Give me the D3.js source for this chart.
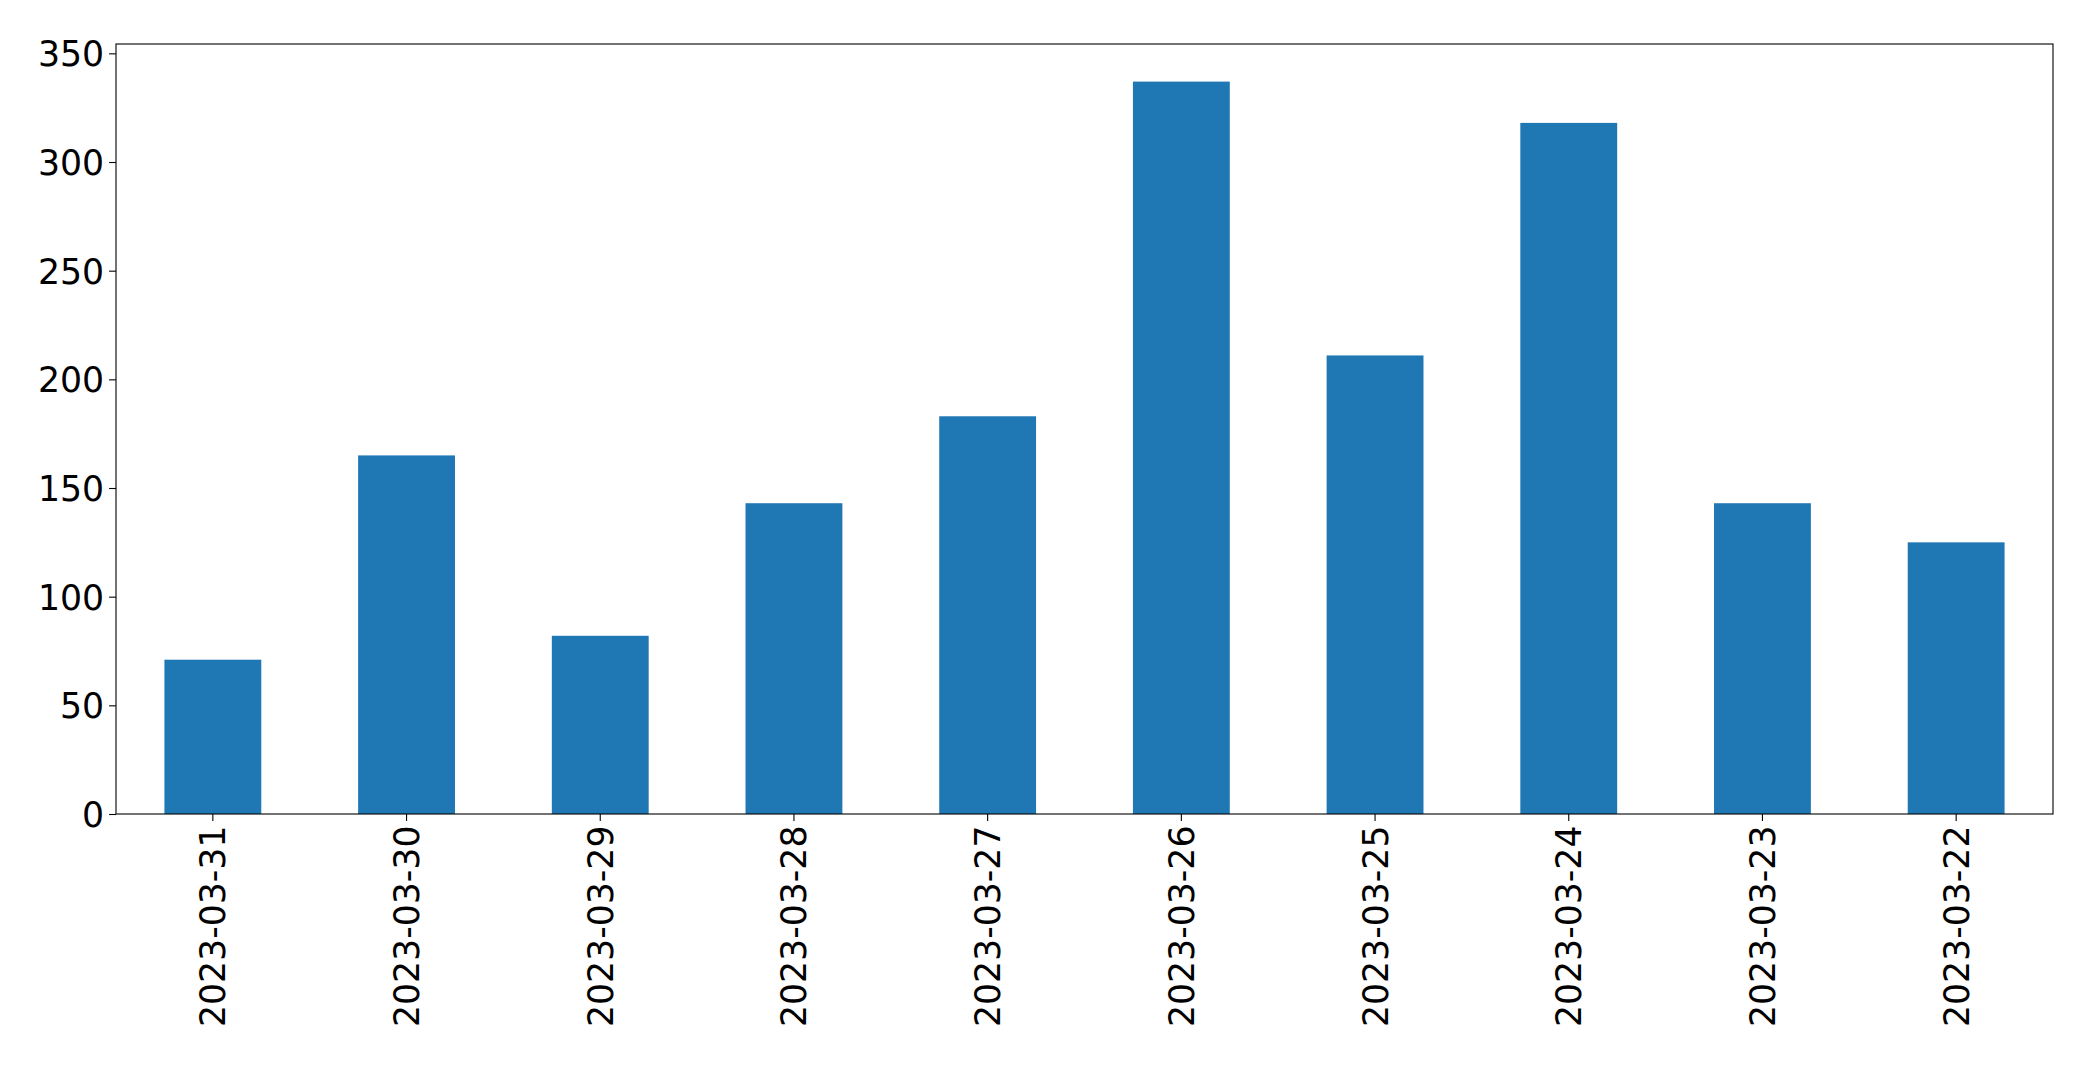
<!DOCTYPE html>
<html>
<head>
<meta charset="utf-8">
<script src="https://cdn.jsdelivr.net/npm/d3@7"></script>
<style>
  body { margin: 0; background: #fff; }
  text { font-family: "DejaVu Sans", sans-serif; fill: #000; }
</style>
</head>
<body>
<script>
const categories = [
  "2023-03-31", "2023-03-30", "2023-03-29", "2023-03-28", "2023-03-27",
  "2023-03-26", "2023-03-25", "2023-03-24", "2023-03-23", "2023-03-22"
];
const values = [71, 165, 82, 143, 183, 337, 211, 318, 143, 125];
const yTicks = [0, 50, 100, 150, 200, 250, 300, 350];

const width = 2093;
const height = 1066;
const margin = { left: 116, right: 40, top: 44, bottom: 252 };
const fontSize = 34.7;
const barColor = "#1f77b4";

const svg = d3
  .select("body")
  .append("svg")
  .attr("width", width)
  .attr("height", height);

const x = d3
  .scaleBand()
  .domain(categories)
  .range([margin.left, width - margin.right])
  .paddingInner(0.5)
  .paddingOuter(0.25);

const y = d3
  .scaleLinear()
  .domain([0, 354.3])
  .range([height - margin.bottom, margin.top]);

// bars
svg
  .append("g")
  .selectAll("rect")
  .data(values)
  .enter()
  .append("rect")
  .attr("x", (d, i) => x(categories[i]))
  .attr("y", (d) => y(d))
  .attr("width", x.bandwidth())
  .attr("height", (d) => y(0) - y(d))
  .attr("fill", barColor);

// y axis
const yAxis = svg
  .append("g")
  .attr("transform", `translate(${margin.left},0)`)
  .call(d3.axisLeft(y).tickValues(yTicks).tickSize(6.9).tickPadding(5));
yAxis.select(".domain").remove();
yAxis.selectAll("line").attr("stroke", "#000").attr("stroke-width", 1.1);
yAxis
  .selectAll("text")
  .attr("font-size", fontSize)
  .attr("font-family", "DejaVu Sans")
  .attr("dy", "0.36em");

// x axis
const xAxis = svg
  .append("g")
  .attr("transform", `translate(0,${height - margin.bottom})`)
  .call(d3.axisBottom(x).tickSize(6.9).tickPadding(0));
xAxis.select(".domain").remove();
xAxis.selectAll("line").attr("stroke", "#000").attr("stroke-width", 1.1);
xAxis
  .selectAll("text")
  .attr("font-size", fontSize)
  .attr("font-family", "DejaVu Sans")
  .attr("text-anchor", "end")
  .attr("transform", "rotate(-90)")
  .attr("x", -11.5)
  .attr("y", 0)
  .attr("dy", "0.36em");

// frame
svg
  .append("rect")
  .attr("x", margin.left)
  .attr("y", margin.top)
  .attr("width", width - margin.right - margin.left)
  .attr("height", height - margin.bottom - margin.top)
  .attr("fill", "none")
  .attr("stroke", "#000")
  .attr("stroke-width", 1.1);
</script>
</body>
</html>
